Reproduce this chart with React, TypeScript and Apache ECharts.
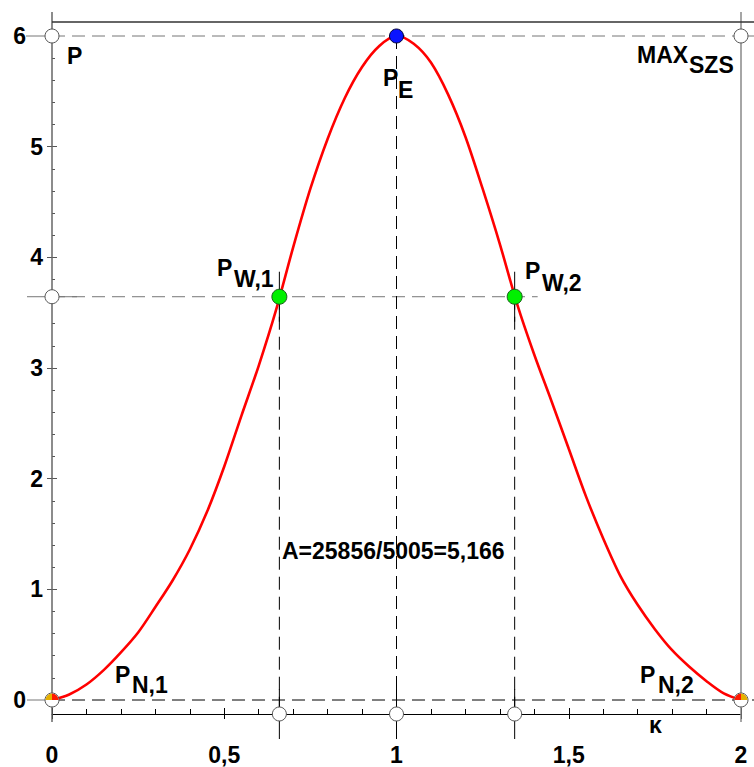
import React, { useEffect, useRef } from 'react';
import * as echarts from 'echarts';

// ---- data ----
const curveX = [
  0, 0.05, 0.1, 0.15, 0.2, 0.25, 0.3, 0.35, 0.4, 0.45, 0.5, 0.55, 0.6, 0.65, 0.7, 0.75, 0.8, 0.85, 0.9, 0.95,
  1.0, 1.05, 1.1, 1.15, 1.2, 1.25, 1.3, 1.35, 1.4, 1.45, 1.5, 1.55, 1.6, 1.65, 1.7, 1.75, 1.8, 1.85, 1.9, 1.95, 2.0,
];
const curveY = [
  0, 0.05, 0.14, 0.27, 0.43, 0.61, 0.84, 1.08, 1.36, 1.7, 2.11, 2.57, 3.02, 3.52, 4.09, 4.62, 5.07, 5.44, 5.72, 5.91,
  6.0, 5.93, 5.76, 5.47, 5.09, 4.62, 4.12, 3.58, 3.12, 2.7, 2.27, 1.84, 1.46, 1.12, 0.86, 0.64, 0.45, 0.3, 0.17, 0.06, 0,
];
const peakPoint = [1, 6];
const inflectionPoints = [
  [0.66, 3.644],
  [1.343, 3.644],
];
const zeroPoints = [
  [0, 0],
  [2, 0],
];
const xTickValues = [0, 0.5, 1, 1.5, 2];
const yTickValues = [0, 1, 2, 3, 4, 5, 6];
const areaText = 'A=25856/5005=5,166';

const FONT = "'Liberation Sans', Arial, sans-serif";
const FS = 23;

function txt(text: string, x: number, y: number, align = 'left', size = FS) {
  return {
    type: 'text',
    x,
    y,
    z: 100,
    silent: true,
    style: {
      text,
      fill: '#000',
      fontSize: size,
      fontWeight: 'bold',
      fontFamily: FONT,
      textAlign: align,
      align,
      textVerticalAlign: 'middle',
      verticalAlign: 'middle',
    },
  };
}

export default function App() {
  const ref = useRef<HTMLDivElement>(null);

  useEffect(() => {
    if (!ref.current) return;
    const chart = echarts.init(ref.current, undefined, { renderer: 'svg' });

    const AXIS_OFFSET = 14;

    const guides = (params: any, api: any) => {
      const c = (x: number, y: number) => api.coord([x, y]);
      const [x0, y0] = c(0, 0);
      const [x2, y6] = c(2, 6);
      const W = api.getWidth();
      const children: any[] = [];
      const line = (a: number, b: number, cc: number, d: number, stroke: string, dash?: number[], w = 1) =>
        children.push({
          type: 'line',
          shape: { x1: a, y1: b, x2: cc, y2: d },
          style: { stroke, lineWidth: w, lineDash: dash || null, fill: null },
        });
      const circle = (cx: number, cy: number) =>
        children.push({
          type: 'circle',
          shape: { cx, cy, r: 7 },
          style: { fill: '#fff', stroke: '#555', lineWidth: 1 },
        });
      const dash = [13, 7];
      // frame
      line(x0, y6 - 24, x0, y0 + 22, '#666', undefined, 1.5);
      line(x2, y6 - 24, x2, y0 + 22, '#888', undefined, 1.5);
      line(x0, y6 - 14, W, y6 - 14, '#333', undefined, 1.5);
      // horizontal dashed guides
      line(x0, y6, x2, y6, '#777', dash);
      const [xi2, yi] = c(inflectionPoints[1][0], inflectionPoints[1][1]);
      line(x0, yi, xi2 + 23, yi, '#777', dash);
      line(x0, y0, W, y0, '#000', dash);
      // vertical dashed guides
      const verts = [inflectionPoints[0], peakPoint, inflectionPoints[1]];
      const axisY = y0 + AXIS_OFFSET;
      verts.forEach((p) => {
        const [px, py] = c(p[0], p[1]);
        line(px, py, px, axisY, '#000', dash);
        line(px, axisY - 25, px, axisY + 25, '#000');
      });
      // handles
      inflectionPoints.forEach((p) => {
        const [px, py] = c(p[0], p[1]);
        line(px, py - 25, px, py + 25, '#000');
      });
      line(x0 - 26, y6, x0, y6, '#777');
      line(x0 - 25, yi, x0 + 25, yi, '#777');
      line(x0 - 25, y0, x0, y0, '#777');
      line(x2, y6, W, y6, '#777');
      // projection circles
      circle(x0, y6);
      circle(x2, y6);
      circle(x0, yi);
      verts.forEach((p) => {
        const [px] = c(p[0], p[1]);
        circle(px, axisY);
      });
      return { type: 'group', children };
    };

    const zeroRender = (params: any, api: any) => {
      const x = api.value(0);
      const [cx, cy] = api.coord([x, api.value(1)]);
      const right = x > 1;
      const r = 7;
      return {
        type: 'group',
        children: [
          { type: 'circle', shape: { cx, cy, r }, style: { fill: '#fff', stroke: '#555', lineWidth: 1 } },
          {
            type: 'sector',
            shape: { cx, cy, r0: 0, r: r - 0.5, startAngle: Math.PI, endAngle: Math.PI * 1.5 },
            style: { fill: right ? '#ff1a00' : '#e6b000' },
          },
          {
            type: 'sector',
            shape: { cx, cy, r0: 0, r: r - 0.5, startAngle: Math.PI * 1.5, endAngle: Math.PI * 2 },
            style: { fill: right ? '#e6b000' : '#ff1a00' },
          },
        ],
      };
    };

    const labelStyle = { color: '#000', fontSize: FS, fontWeight: 'bold', fontFamily: FONT };

    const option: any = {
      animation: false,
      backgroundColor: '#fff',
      textStyle: { fontFamily: FONT },
      grid: { left: 52, right: 13, top: 36, bottom: 67, containLabel: false, outerBoundsMode: 'none' },
      xAxis: [
        {
          type: 'value',
          min: 0,
          max: 2,
          interval: 0.5,
          position: 'bottom',
          offset: AXIS_OFFSET,
          axisLine: { show: true, onZero: false, lineStyle: { color: '#000', width: 1 } },
          axisTick: { show: true, inside: false, length: 5, lineStyle: { color: '#000' } },
          axisLabel: {
            ...labelStyle,
            margin: 29,
            customValues: xTickValues,
            formatter: (v: number) => String(v).replace('.', ','),
          },
          splitLine: { show: false },
        },
        {
          type: 'value',
          min: 0,
          max: 2,
          interval: 0.5,
          position: 'bottom',
          offset: AXIS_OFFSET,
          axisLine: { show: false, onZero: false },
          axisTick: { show: true, inside: true, length: 6, lineStyle: { color: '#000' } },
          minorTick: { show: true, splitNumber: 5, length: 5, lineStyle: { color: '#000' } },
          axisLabel: { show: false },
          splitLine: { show: false },
        },
      ],
      yAxis: [
        {
          type: 'value',
          min: 0,
          max: 6,
          interval: 1,
          position: 'left',
          offset: 0,
          axisLine: { show: false, onZero: false },
          axisTick: { show: true, inside: false, length: 5, lineStyle: { color: '#555' } },
          axisLabel: {
            ...labelStyle,
            margin: 9,
            formatter: (v: number) => (v === yTickValues[0] || v === yTickValues[yTickValues.length - 1] ? '' : String(v)),
          },
          splitLine: { show: false },
        },
        {
          type: 'value',
          min: 0,
          max: 6,
          interval: 1,
          position: 'left',
          offset: 0,
          axisLine: { show: false, onZero: false },
          axisTick: { show: true, inside: true, length: 5, lineStyle: { color: '#555' } },
          minorTick: { show: true, splitNumber: 5, length: 3, lineStyle: { color: '#555' } },
          axisLabel: { show: false },
          splitLine: { show: false },
        },
      ],
      series: [
        {
          type: 'custom',
          name: 'guides',
          coordinateSystem: 'cartesian2d',
          renderItem: guides,
          data: [[0, 0]],
          clip: false,
          silent: true,
          z: 1,
        },
        {
          type: 'line',
          name: 'P(κ)',
          data: curveX.map((x, i) => [x, curveY[i]]),
          showSymbol: false,
          smooth: 0.3,
          lineStyle: { color: '#ff0000', width: 2.6 },
          clip: false,
          silent: true,
          z: 3,
        },
        {
          type: 'custom',
          name: 'zeros',
          coordinateSystem: 'cartesian2d',
          renderItem: zeroRender,
          data: zeroPoints,
          clip: false,
          silent: true,
          z: 5,
        },
        {
          type: 'scatter',
          name: 'P_E',
          data: [peakPoint],
          symbolSize: 14,
          itemStyle: { color: '#0a14ff', borderColor: '#003', borderWidth: 1, opacity: 1 },
          clip: false,
          silent: true,
          z: 6,
        },
        {
          type: 'scatter',
          name: 'P_W',
          data: inflectionPoints,
          symbolSize: 15,
          itemStyle: { color: '#00f000', borderColor: '#1a5a1a', borderWidth: 1, opacity: 1 },
          clip: false,
          silent: true,
          z: 6,
        },
      ],
      graphic: [
        txt('6', 26, 36, 'right'),
        txt('0', 26, 700, 'right'),
        txt('P', 67, 56),
        txt('MAX', 637, 55),
        txt('SZS', 689, 65),
        txt('P', 383, 78),
        txt('E', 398, 90),
        txt('P', 217, 268),
        txt('W,1', 234, 279),
        txt('P', 525, 271),
        txt('W,2', 542, 283),
        txt('P', 115, 675),
        txt('N,1', 132, 685),
        txt('P', 640, 675),
        txt('N,2', 658, 685),
        txt(areaText, 282, 551),
        txt('κ', 649, 725),
      ],
    };

    chart.setOption(option);
    return () => chart.dispose();
  }, []);

  return (
    <div
      ref={ref}
      style={{ position: 'fixed', left: 0, top: 0, width: 754, height: 767, background: '#fff' }}
    />
  );
}
